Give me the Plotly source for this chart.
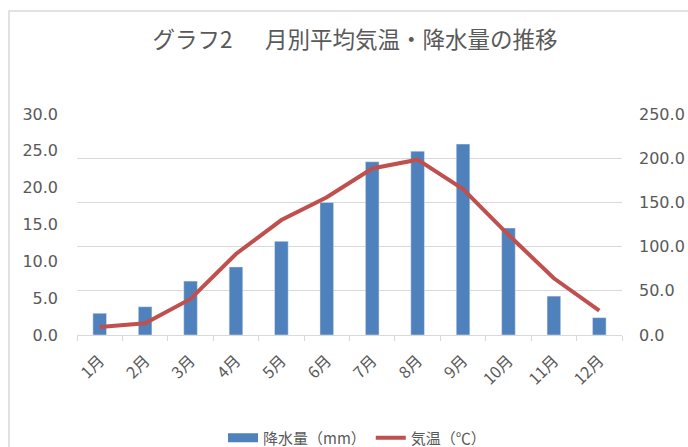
import plotly.graph_objects as go

months = ["1月", "2月", "3月", "4月", "5月", "6月", "7月", "8月", "9月", "10月", "11月", "12月"]
precip_mm = [24.6, 32.0, 61.0, 77.0, 106.0, 150.0, 196.0, 208.0, 216.0, 121.0, 44.0, 19.6]
temp_c = [1.1, 1.6, 4.9, 11.0, 15.6, 18.7, 22.6, 23.8, 19.8, 13.6, 7.7, 3.3]

FONT = "Noto Sans CJK JP"
NUMFONT = "DejaVu Sans"
GRAY = "#595959"
BLUE = "#4F81BD"
RED = "#C0504D"

fig = go.Figure()
fig.add_trace(go.Bar(
    x=months, y=precip_mm, name="降水量（mm）",
    marker=dict(color=BLUE), width=0.3, yaxis="y", showlegend=False,
))
# legend-only proxy so the legend key is a wide rectangle as in the original
fig.add_trace(go.Scatter(
    x=[None], y=[None], name="降水量（mm）", mode="lines",
    line=dict(color=BLUE, width=9), yaxis="y", hoverinfo="skip",
))
fig.add_trace(go.Scatter(
    x=months, y=temp_c, name="気温（℃）", mode="lines",
    line=dict(color=RED, width=4), yaxis="y2",
))

L, R, T, B = 77, 66, 114, 112
W, H = 688, 447
pw = W - L - R
ph = H - T - B

def px_x(px):
    return (px - L) / pw

def px_y(py):
    return (H - B - py) / ph

fig.update_layout(
    width=W, height=H,
    margin=dict(l=L, r=R, t=T, b=B, autoexpand=False),
    paper_bgcolor="white", plot_bgcolor="white",
    font=dict(family=FONT, color=GRAY, size=14),
    title=dict(
        text="グラフ2　  月別平均気温・降水量の推移",
        x=355 / W, xanchor="center", y=1 - 40 / H, yanchor="middle",
        font=dict(family=FONT, size=22.5, color=GRAY),
    ),
    xaxis=dict(
        showgrid=False, showline=True, linecolor="#d9d9d9", linewidth=1,
        ticks="outside", tickson="boundaries", ticklen=5, tickcolor="#d9d9d9",
        tickangle=-45, tickfont=dict(family=FONT, size=16, color=GRAY),
        ticklabelstandoff=9, automargin=False,
    ),
    yaxis=dict(
        side="right", range=[0, 250], dtick=50, tickformat=".1f",
        showgrid=True, gridcolor="#d9d9d9", gridwidth=1,
        zeroline=False, showline=False, ticks="",
        tickfont=dict(family=NUMFONT, size=16, color=GRAY),
        ticklabelstandoff=16, automargin=False,
    ),
    yaxis2=dict(
        side="left", overlaying="y", range=[0, 30], dtick=5, tickformat=".1f",
        showgrid=False, zeroline=False, showline=False,
        tickfont=dict(family=NUMFONT, size=16, color=GRAY),
        ticklabelstandoff=18, automargin=False,
    ),
    legend=dict(
        orientation="h", x=px_x(357), xanchor="center",
        y=px_y(438), yanchor="middle",
        font=dict(family=FONT, size=15, color=GRAY),
        traceorder="normal", itemwidth=30,
    ),
    shapes=[dict(
        type="rect", xref="paper", yref="paper",
        x0=px_x(9), x1=px_x(720), y0=px_y(11), y1=px_y(480),
        line=dict(color="#d9d9d9", width=1.5), layer="below",
    )],
)

fig.write_html(
    "out.html",
    config={"displayModeBar": False},
    post_script="document.body.style.margin='0';document.body.style.overflow='hidden';",
)
